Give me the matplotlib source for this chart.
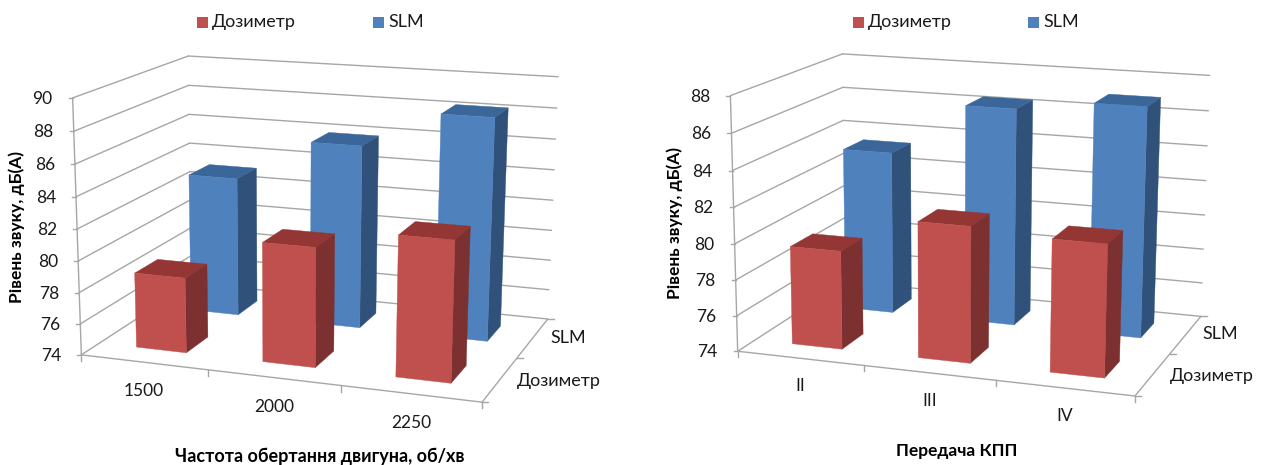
import numpy as np
import matplotlib
matplotlib.use("Agg")
import matplotlib.pyplot as plt
from matplotlib.patches import Polygon

plt.rcParams['font.family'] = ['Lato', 'Open Sans', 'DejaVu Sans']

series_names = ["Дозиметр", "SLM"]
y_title = "Рівень звуку, дБ(А)"

# левый график
rpm_labels = ["1500", "2000", "2250"]
rpm_title = "Частота обертання двигуна, об/хв"
rpm_dosimeter = [78.8, 81.5, 82.7]
rpm_slm = [83.2, 85.95, 88.3]
rpm_ticks = [74, 76, 78, 80, 82, 84, 86, 88, 90]

# правый график
gear_labels = ["II", "III", "IV"]
gear_title = "Передача КПП"
gear_dosimeter = [79.5, 81.5, 81.2]
gear_slm = [83.4, 86.4, 87.0]
gear_ticks = [74, 76, 78, 80, 82, 84, 86, 88]

RED = ("#C0504D", "#943634", "#7D3030")
BLUE = ("#4F81BD", "#3A6699", "#30527A")
GRID = "#A6A6A6"
TEXT = "#1A1A1A"


def fit_projection(corners):
    # углы коробки (x, y, z) -> пиксели, матрица 3x4 по методу DLT
    rows = []
    rhs = []
    for (x, y, z), (u, v) in corners.items():
        rows.append([x, y, z, 1, 0, 0, 0, 0, -u * x, -u * y, -u * z])
        rhs.append(u)
        rows.append([0, 0, 0, 0, x, y, z, 1, -v * x, -v * y, -v * z])
        rhs.append(v)
    p = np.linalg.lstsq(np.array(rows, float), np.array(rhs, float), rcond=None)[0]
    return np.append(p, 1.0).reshape(3, 4)


def draw_chart(ax, corners, cats, front, back, ticks, title, layout):
    P = fit_projection(corners)

    def pr(x, y, z):
        u, v, w = P @ np.array([x, y, z, 1.0])
        return u / w, v / w

    vmin, vmax = ticks[0], ticks[-1]

    def zpos(val):
        return (val - vmin) / (vmax - vmin)

    def line(a, b, lw=1.0):
        ax.plot([a[0], b[0]], [a[1], b[1]], color=GRID, lw=lw, solid_capstyle="round", zorder=1)

    # сетка на стенках
    for t in ticks:
        z = zpos(t)
        line(pr(0, 0, z), pr(0, 1, z))
        line(pr(0, 1, z), pr(1, 1, z))
        a = pr(0, 0, z)
        ax.plot([a[0] - 4, a[0]], [a[1], a[1]], color=GRID, lw=1.0, zorder=1)
        ax.text(a[0] - 20, a[1] + 1, str(t), ha="right", va="center", fontsize=12.5, color=TEXT)

    # оси и пол
    line(pr(0, 0, 0), pr(0, 0, 1))
    line(pr(0, 0, 0), pr(1, 0, 0))
    line(pr(1, 0, 0), pr(1, 1, 0))
    for i in range(len(cats) + 1):
        a = pr(i / len(cats), 0, 0)
        ax.plot([a[0], a[0]], [a[1], a[1] + 6], color=GRID, lw=1.0, zorder=1)
    for d in [0, 0.5, 1]:
        a = pr(1, d, 0)
        ax.plot([a[0], a[0] + 6], [a[1], a[1]], color=GRID, lw=1.0, zorder=1)

    def bar(i, row, val, colors):
        n = len(cats)
        x0, x1 = (i + 0.3) / n, (i + 0.7) / n
        y0, y1 = (row + 0.3) / 2, (row + 0.7) / 2
        z = zpos(val)
        side = [pr(x1, y0, 0), pr(x1, y1, 0), pr(x1, y1, z), pr(x1, y0, z)]
        top = [pr(x0, y0, z), pr(x1, y0, z), pr(x1, y1, z), pr(x0, y1, z)]
        face = [pr(x0, y0, 0), pr(x1, y0, 0), pr(x1, y0, z), pr(x0, y0, z)]
        for poly, c in zip((side, top, face), (colors[2], colors[1], colors[0])):
            ax.add_patch(Polygon(poly, closed=True, facecolor=c, edgecolor=c, lw=0.3, zorder=3))

    # задний ряд, затем передний
    for i, val in enumerate(back):
        bar(i, 1, val, BLUE)
    for i, val in enumerate(front):
        bar(i, 0, val, RED)

    # подписи категорий
    for i, lab in enumerate(cats):
        a = pr((i + 0.5) / len(cats), 0, 0)
        ax.text(a[0], a[1] + layout["cat_dy"], lab, ha="center", va="center", fontsize=12.5, color=TEXT)

    # подписи рядов по глубине
    for name, pos in zip(series_names, layout["depth_labels"]):
        ax.text(pos[0], pos[1], name, ha="center", va="center", fontsize=13, color=TEXT)

    # легенда
    for name, c, pos in zip(series_names, (RED[0], BLUE[0]), layout["legend"]):
        ax.add_patch(Polygon([(pos, 17), (pos + 10.5, 17), (pos + 10.5, 28), (pos, 28)], closed=True, facecolor=c, edgecolor="none"))
        ax.text(pos + 15, 22, name, ha="left", va="center", fontsize=13, color=TEXT)

    ax.text(layout["xt"][0], layout["xt"][1], title, ha="center", va="center", fontsize=layout["xt_size"], fontweight="bold", color="#000000")
    ax.text(layout["yt"][0], layout["yt"][1], y_title, ha="center", va="center", rotation=90, fontsize=12.5, fontweight="bold", color="#000000")


fig = plt.figure(figsize=(12.61, 4.65), dpi=100)
fig.patch.set_facecolor("white")
W = 1261.0
ax1 = fig.add_axes([0, 0, 630 / W, 1])
ax2 = fig.add_axes([630 / W, 0, 631 / W, 1])
ax1.set_xlim(0, 630)
ax2.set_xlim(630, 1261)
for ax in (ax1, ax2):
    ax.set_ylim(465, 0)
    ax.axis("off")

corners_left = {
    (0, 0, 0): (82, 354), (0, 0, 1): (72, 98),
    (0, 1, 0): (191, 284), (0, 1, 1): (189, 55.7),
    (1, 1, 0): (548, 318), (1, 1, 1): (558, 77),
    (1, 0, 0): (482, 403),
}
corners_right = {
    (0, 0, 0): (738, 349), (0, 0, 1): (730, 96),
    (0, 1, 0): (845, 284), (0, 1, 1): (843, 53),
    (1, 1, 0): (1201, 314), (1, 1, 1): (1209.5, 76),
    (1, 0, 0): (1135, 398),
}

draw_chart(ax1, corners_left, rpm_labels, rpm_dosimeter, rpm_slm, rpm_ticks, rpm_title, {
    "cat_dy": 29, "depth_labels": [(559, 381), (568, 338)], "legend": [197, 373],
    "xt": (320, 456), "xt_size": 13, "yt": (17, 227),
})
draw_chart(ax2, corners_right, gear_labels, gear_dosimeter, gear_slm, gear_ticks, gear_title, {
    "cat_dy": 28, "depth_labels": [(1212, 376), (1220, 334)], "legend": [853, 1028],
    "xt": (957, 451), "xt_size": 12.5, "yt": (675, 223),
})

fig.savefig("out.png", dpi=100)
